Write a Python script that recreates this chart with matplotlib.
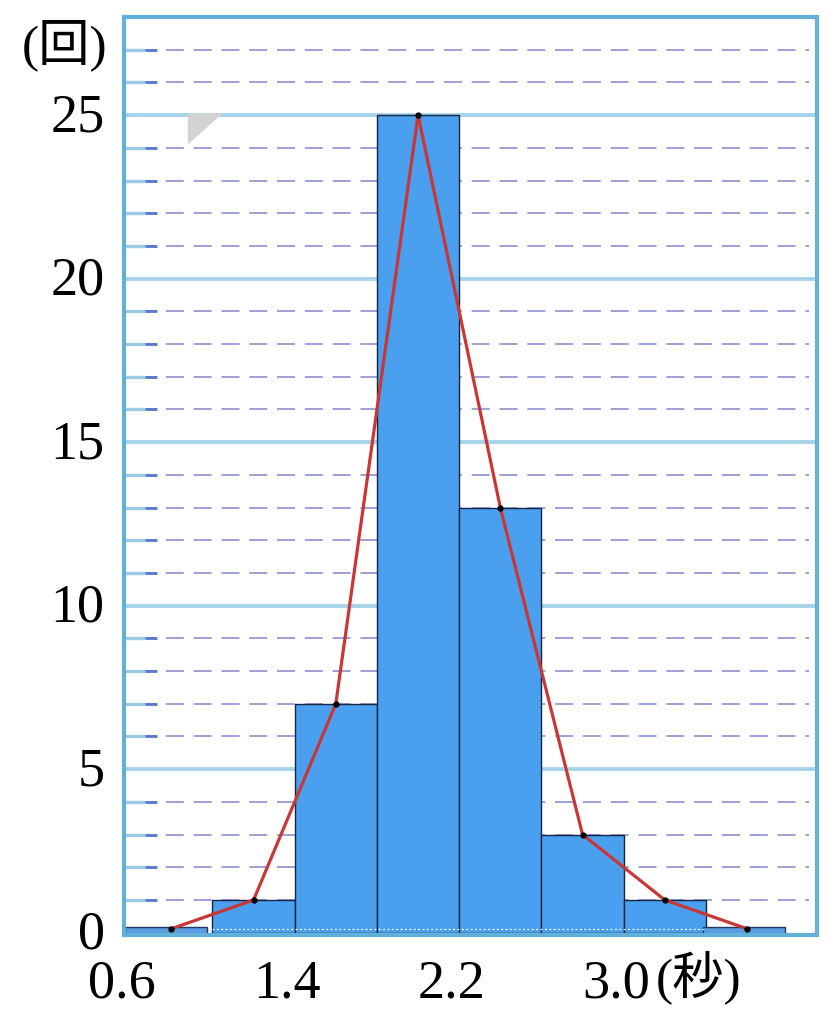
import numpy as np
import matplotlib
matplotlib.use("Agg")
import matplotlib.pyplot as plt
from matplotlib.patches import Polygon
from matplotlib.transforms import ScaledTranslation

# ---- data ----
bin_edges = [0.6, 1.0, 1.4, 1.8, 2.2, 2.6, 3.0, 3.4, 3.8]
counts = [0, 1, 7, 25, 13, 3, 1, 0]
midpoints = [0.8, 1.2, 1.6, 2.0, 2.4, 2.8, 3.2, 3.6]
xtick_vals = [0.6, 1.4, 2.2, 3.0]
xtick_labels = ["0.6", "1.4", "2.2", "3.0"]
ytick_vals = [0, 5, 10, 15, 20, 25]
y_unit = "(回)"
x_unit = "(秒)"

fam = ["Liberation Serif", "Noto Sans CJK JP"]
plt.rcParams["font.family"] = fam

fig = plt.figure(figsize=(8.37, 10.24), dpi=100)
ax = fig.add_axes([124/837, 1 - 935/1024, (817-124)/837, (935-17)/1024])
xmin, xmax = 0.57, 3.94
ymin, ymax = -0.07, 28.0
ax.set_xlim(xmin, xmax)
ax.set_ylim(ymin, ymax)

# grid: dashed every 1, solid every 5
for v in range(1, 28):
    if v % 5 == 0:
        ax.axhline(v, color="#a6d3ea", lw=2.8, zorder=1)
    else:
        ax.plot([0.64, 3.9], [v, v], color="#8585cf", lw=1.1,
                dashes=(11.8, 6.4), zorder=1)
        ax.plot([xmin, 0.67], [v, v], color="#9ccbe6", lw=2.4,
                solid_capstyle="butt", zorder=1.1)
        ax.plot([0.67, 0.73], [v, v], color="#5a78cc", lw=2.0,
                solid_capstyle="butt", zorder=1.1)

# bars
lefts = np.array(bin_edges[:-1])
widths = np.diff(bin_edges)
cnt = np.array(counts, dtype=float)
for l, w, c in zip(lefts, widths, cnt):
    if c == 0:
        ax.bar(l - (0.025 if l < 1 else 0.015), 0.22, width=w, bottom=-0.05,
               align="edge", color="#5a9ee0", edgecolor="#1f3a66", lw=1.0,
               zorder=2)
    else:
        ax.bar(l, c, width=w, align="edge", color="#4aa0ef",
               edgecolor="#15243f", lw=1.0, zorder=2)

# faint dotted baseline inside bars
ax.plot([1.0, 3.4], [0.12, 0.12], color="white", lw=0.9, ls=(0, (1.5, 2)),
        zorder=2.5)

# frequency polygon
poly_y = [c if c > 0 else 0.12 for c in counts]
ax.plot(midpoints, poly_y, color="#c93636", lw=2.3, zorder=3)
ax.plot(midpoints, poly_y, ls="none", marker="o", ms=3.5, color="black",
        zorder=4)

# gray triangle mark
ax.add_patch(Polygon([[0.88, 25.05], [1.05, 25.05], [0.88, 24.1]],
                     closed=True, color="#d3d3d3", zorder=1.5, lw=0))

# frame
for s in ax.spines.values():
    s.set_color("#62b0d8")
    s.set_linewidth(3.0)

# ticks
ax.set_yticks(ytick_vals)
ax.set_yticklabels([str(v) for v in ytick_vals], fontsize=39)
ax.set_xticks(xtick_vals)
ax.set_xticklabels(xtick_labels, fontsize=39)
ax.tick_params(length=0)
ax.tick_params(axis="x", pad=17)
ax.tick_params(axis="y", pad=14)
for lab in ax.get_xticklabels():
    lab.set_transform(lab.get_transform() +
                      ScaledTranslation(-8/100, 0, fig.dpi_scale_trans))
for lab in ax.get_yticklabels():
    lab.set_transform(lab.get_transform() +
                      ScaledTranslation(0, 3/100, fig.dpi_scale_trans))
fig.text(65/837, 1 - 45/1024, y_unit, ha="center", va="center",
         fontsize=37, family=fam)
fig.text(656/837, 1 - 977/1024, x_unit, ha="left", va="center",
         fontsize=37, family=fam)

fig.savefig("out.png", dpi=100)
